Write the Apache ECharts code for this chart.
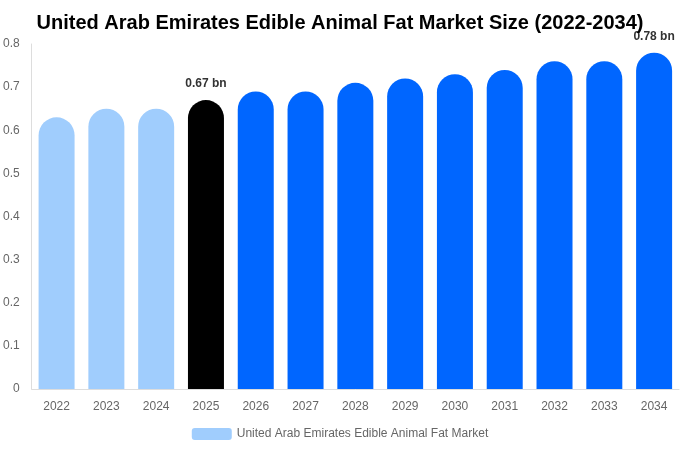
<!DOCTYPE html>
<html>
<head>
<meta charset="utf-8">
<title>UAE Edible Animal Fat Market</title>
<script src="https://cdn.jsdelivr.net/npm/echarts@6/dist/echarts.min.js"></script>
<style>
  html, body { margin: 0; background: #fff; }
  #chart { width: 680px; height: 450px; }
</style>
</head>
<body>
<div id="chart"></div>
<script>
var years = ['2022','2023','2024','2025','2026','2027','2028','2029','2030','2031','2032','2033','2034'];
var marketSize = [0.63, 0.65, 0.65, 0.67, 0.69, 0.69, 0.71, 0.72, 0.73, 0.74, 0.76, 0.76, 0.78];
var yTicks = [0, 0.1, 0.2, 0.3, 0.4, 0.5, 0.6, 0.7, 0.8];
var labelled = { '2025': '0.67 bn', '2034': '0.78 bn' };

var font = 'Liberation Sans, Arial, sans-serif';

function barColor(year) {
  var y = +year;
  if (y < 2025) return '#a0cdfd';
  if (y === 2025) return '#000000';
  return '#0066ff';
}

var barData = years.map(function (y, i) {
  var item = {
    value: marketSize[i],
    itemStyle: { color: barColor(y) }
  };
  if (labelled[y]) {
    item.label = {
      show: true, position: 'top', distance: 10,
      formatter: labelled[y],
      fontFamily: font, fontSize: 12, fontWeight: 'bold', color: '#333'
    };
  }
  return item;
});

var chart = echarts.init(document.getElementById('chart'));
chart.setOption({
  animation: false,
  title: {
    text: 'United Arab Emirates Edible Animal Fat Market Size (2022-2034)',
    left: 'center', top: 8,
    textStyle: { fontFamily: font, fontSize: 20, fontWeight: 'bold', color: '#000' }
  },
  legend: {
    bottom: 5, left: 'center',
    itemWidth: 40, itemHeight: 12,
    textStyle: { fontFamily: font, fontSize: 12, color: '#666' },
    data: [{ name: 'United Arab Emirates Edible Animal Fat Market', itemStyle: { color: '#a0cdfd' } }]
  },
  grid: { left: 30, right: 1, top: 44, bottom: 61 },
  xAxis: {
    type: 'category',
    data: years,
    axisLine: { lineStyle: { color: '#ddd' } },
    axisTick: { show: false },
    axisLabel: { fontFamily: font, fontSize: 12, color: '#666', margin: 12 }
  },
  yAxis: {
    type: 'value',
    min: yTicks[0], max: yTicks[yTicks.length - 1], interval: 0.1,
    axisLine: { show: true, lineStyle: { color: '#ddd' } },
    splitLine: { show: false },
    axisLabel: {
      fontFamily: font, fontSize: 12, color: '#666', margin: 12,
      formatter: function (v) { return String(+v.toFixed(1)); }
    }
  },
  series: [{
    name: 'United Arab Emirates Edible Animal Fat Market',
    type: 'bar',
    barWidth: 36,
    itemStyle: { borderRadius: [18, 18, 0, 0] },
    data: barData
  }]
});
</script>
</body>
</html>
